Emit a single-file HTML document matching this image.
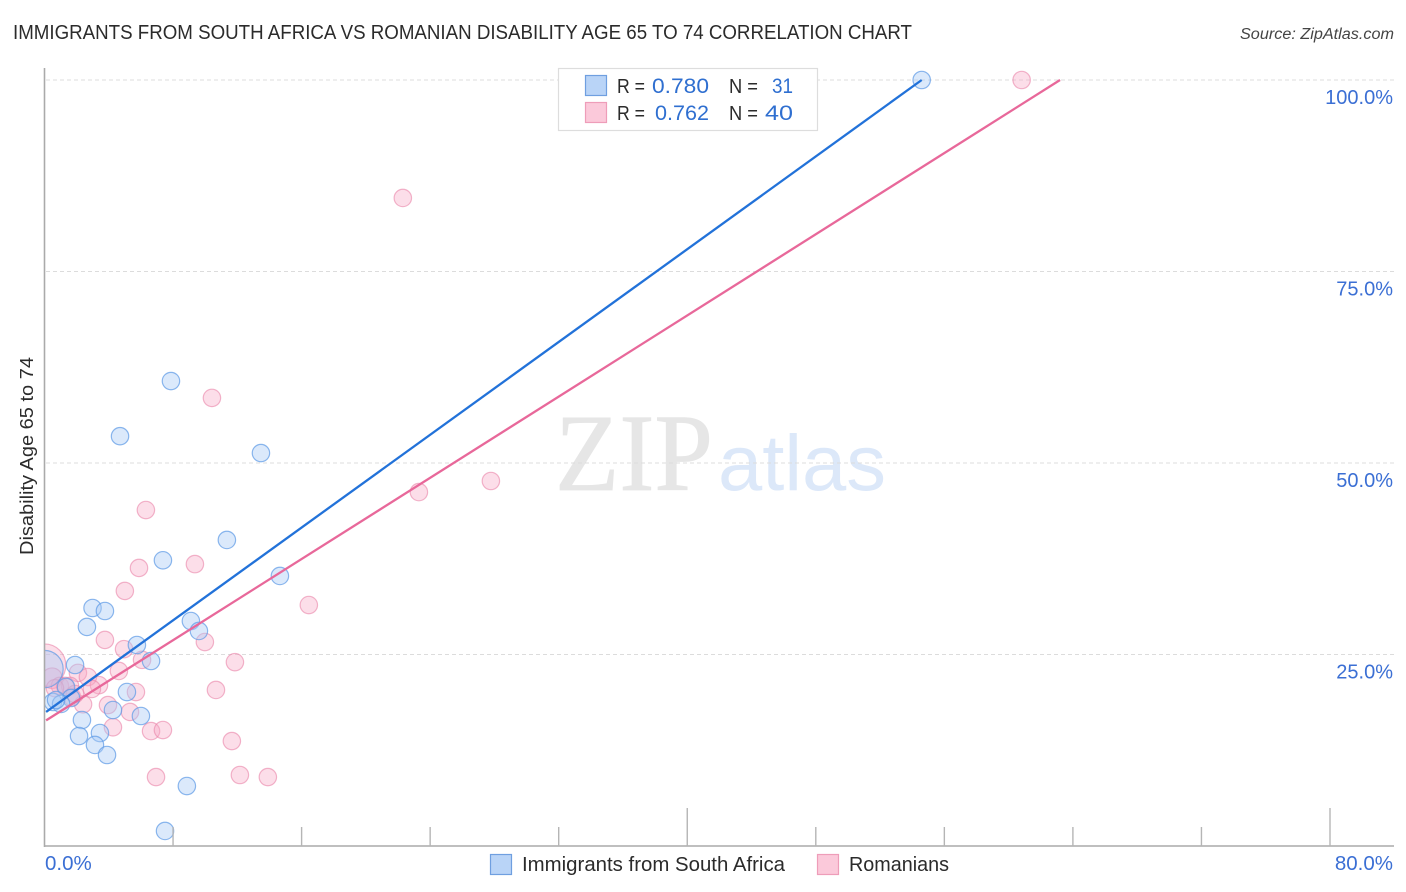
<!DOCTYPE html>
<html lang="en">
<head>
<meta charset="utf-8">
<title>Immigrants from South Africa vs Romanian Disability Age 65 to 74 Correlation Chart</title>
<style>
html,body{margin:0;padding:0;background:#fff;width:1406px;height:892px;overflow:hidden}
svg{display:block;font-family:"Liberation Sans",sans-serif}
</style>
</head>
<body>
<svg id="chart" xmlns="http://www.w3.org/2000/svg" width="1406" height="892" viewBox="0 0 1406 892">
  <rect x="0" y="0" width="1406" height="892" fill="#fff"/>
  <text x="13" y="39" font-size="20" fill="#2b2b2b" textLength="899" lengthAdjust="spacingAndGlyphs">IMMIGRANTS FROM SOUTH AFRICA VS ROMANIAN DISABILITY AGE 65 TO 74 CORRELATION CHART</text>
  <text x="1394" y="39" font-size="15.5" font-style="italic" fill="#444" text-anchor="end" textLength="154" lengthAdjust="spacingAndGlyphs">Source: ZipAtlas.com</text>
  <g>
    <text x="555" y="490" font-family="'Liberation Serif',serif" font-size="110" fill="#e6e6e6" stroke="#e6e6e6" stroke-width="0.8" textLength="158" lengthAdjust="spacingAndGlyphs">ZIP</text>
    <text x="718" y="490" font-size="79" fill="#dce8f9" textLength="168" lengthAdjust="spacingAndGlyphs">atlas</text>
  </g>
  <g id="grid-layer"></g>
  <g id="point-layer"></g>
  <rect x="0" y="620" width="44" height="100" fill="#fff"/>
  <g id="axis-layer"></g>
  <g id="line-layer"></g>
  <text transform="translate(33,456) rotate(-90)" font-size="18.5" fill="#2b2b2b" text-anchor="middle" textLength="198" lengthAdjust="spacingAndGlyphs">Disability Age 65 to 74</text>

  <g>
    <rect x="558.5" y="68.5" width="259" height="62" fill="#fff" stroke="#ddd" stroke-width="1.2"/>
    <rect x="585.5" y="75.5" width="21" height="20" fill="#b9d4f7" stroke="#6f9fe0" stroke-width="1.2"/>
    <rect x="585.5" y="102.5" width="21" height="20" fill="#fbc9da" stroke="#ee9db9" stroke-width="1.2"/>
    <text x="617" y="93" font-size="20" fill="#2b2b2b" textLength="28" lengthAdjust="spacingAndGlyphs">R =</text>
    <text x="652" y="93" font-size="21.5" fill="#2f6fd0" textLength="57" lengthAdjust="spacingAndGlyphs">0.780</text>
    <text x="729" y="93" font-size="20" fill="#2b2b2b" textLength="29" lengthAdjust="spacingAndGlyphs">N =</text>
    <text x="772" y="93" font-size="21.5" fill="#2f6fd0" textLength="21" lengthAdjust="spacingAndGlyphs">31</text>
    <text x="617" y="120" font-size="20" fill="#2b2b2b" textLength="28" lengthAdjust="spacingAndGlyphs">R =</text>
    <text x="655" y="120" font-size="21.5" fill="#2f6fd0" textLength="54" lengthAdjust="spacingAndGlyphs">0.762</text>
    <text x="729" y="120" font-size="20" fill="#2b2b2b" textLength="29" lengthAdjust="spacingAndGlyphs">N =</text>
    <text x="765" y="120" font-size="21.5" fill="#2f6fd0" textLength="28" lengthAdjust="spacingAndGlyphs">40</text>
  </g>

  <g>
    <rect x="490.5" y="854.5" width="21" height="20" fill="#b9d4f7" stroke="#6f9fe0" stroke-width="1.2"/>
    <text x="522" y="871" font-size="20" fill="#2b2b2b" textLength="263" lengthAdjust="spacingAndGlyphs">Immigrants from South Africa</text>
    <rect x="817.5" y="854.5" width="21" height="20" fill="#fbc9da" stroke="#ee9db9" stroke-width="1.2"/>
    <text x="849" y="871" font-size="20" fill="#2b2b2b" textLength="100" lengthAdjust="spacingAndGlyphs">Romanians</text>
  </g>
</svg>

<script>
// ---- Data (in percent) ----
const xTickValues = [0, 8, 16, 24, 32, 40, 48, 56, 64, 72, 80];
const xMajorTicks = [40, 80];
const xEdgeLabels = ["0.0%", "80.0%"];
const xEdgeValues = [0, 80];
const yTickValues = [25, 50, 75, 100];
const yTickLabels = ["25.0%", "50.0%", "75.0%", "100.0%"];

const southAfricaX = [54.59, 7.87, 4.70, 13.47, 11.35, 7.37, 14.65, 2.99, 3.76, 2.64, 9.11, 9.61, 5.75, 6.63, 1.90, 5.13, 1.34, 1.65, 0.53, 1.03, 0.72, 4.26, 6.00, 2.33, 2.15, 3.45, 3.14, 3.89, 8.86, 7.50, 0];
const southAfricaY = [100, 60.7, 53.5, 51.3, 39.95, 37.3, 35.25, 31.07, 30.68, 28.6, 29.37, 28.07, 26.24, 24.15, 23.63, 20.1, 20.76, 19.32, 18.8, 18.54, 19.06, 17.75, 16.97, 16.45, 14.36, 14.75, 13.19, 11.88, 7.83, 1.96, 23.1];
const southAfricaWeight = [1, 1, 1, 1, 1, 1, 1, 1, 1, 1, 1, 1, 1, 1, 1, 1, 1, 1, 1, 1, 1, 1, 1, 1, 1, 1, 1, 1, 1, 1, 4.6];

const romaniansX = [60.81, 22.3, 10.42, 6.31, 27.78, 23.3, 9.36, 5.88, 5.0, 16.45, 3.76, 9.98, 4.95, 11.85, 6.07, 4.63, 10.67, 5.69, 3.95, 5.32, 2.4, 4.26, 6.63, 7.37, 11.66, 6.94, 12.16, 13.9, 0, 0.47, 2.08, 2.7, 3.39, 2.95, 0.96, 1.59, 1.28, 0.65, 1.71, 1.9];
const romaniansY = [100, 84.6, 58.5, 43.86, 47.65, 46.2, 36.8, 36.3, 33.3, 31.46, 26.9, 26.63, 25.7, 24.0, 24.3, 22.85, 20.37, 20.1, 18.4, 17.5, 18.5, 15.5, 15.0, 15.14, 13.7, 9.0, 9.27, 9.0, 23.6, 21.9, 22.6, 22.06, 21.0, 20.5, 20.9, 20.9, 20.9, 20.6, 19.45, 19.84];
const romaniansWeight = [1, 1, 1, 1, 1, 1, 1, 1, 1, 1, 1, 1, 1, 1, 1, 1, 1, 1, 1, 1, 1, 1, 1, 1, 1, 1, 1, 1, 6, 1.4, 1, 1, 1, 1, 1, 1, 1, 1, 1, 1];

const southAfricaTrendX = [0.1, 54.59];
const southAfricaTrendY = [17.5, 100];
const romaniansTrendX = [0.1, 63.2];
const romaniansTrendY = [16.4, 100];

// ---- Axis functions ----
const NS = "http://www.w3.org/2000/svg";
function xScale(v) { return 44.5 + v * (1330 - 44.5) / 80; }
function yScale(v) { return 846 - v * (846 - 80) / 100; }
function rScale(w) { return 8.7 * Math.sqrt(w); }
function make(tag, parent, props) {
  const el = document.createElementNS(NS, tag);
  for (const k in props) el.setAttribute(k, props[k]);
  parent.appendChild(el);
  return el;
}

const gridLayer = document.getElementById("grid-layer");
const axisLayer = document.getElementById("axis-layer");
const pointLayer = document.getElementById("point-layer");
const lineLayer = document.getElementById("line-layer");

// Gridlines and y tick labels
yTickValues.forEach(function (v, i) {
  const g = make("line", gridLayer, {x1: 46, x2: 1394, y1: yScale(v), y2: yScale(v), stroke: "#dcdcdc", "stroke-width": 1, "stroke-dasharray": "4 3"});
  
  
  const label = yTickLabels[i];
  const t = make("text", axisLayer, {x: 1393, y: yScale(v) + 24, "font-size": 20, fill: "#3b6fd4", "text-anchor": "end"});
  t.textContent = label;
  
  
});

// Axis lines
const yAxisLine = make("line", axisLayer, {x1: 44.5, x2: 44.5, y1: 68, y2: 847, stroke: "#aaa", "stroke-width": 1.6});


const xAxisLine = make("line", axisLayer, {x1: 44, x2: 1394, y1: 846, y2: 846, stroke: "#aaa", "stroke-width": 1.6});



// X ticks
xTickValues.forEach(function (v) {
  if (v === 0) return;
  const major = xMajorTicks.indexOf(v) >= 0;
  const tk = make("line", axisLayer, {x1: xScale(v), x2: xScale(v), y1: major ? 808 : 827, y2: 846, stroke: "#b5b5b5", "stroke-width": 1.4});
  
  
});

// X edge labels
xEdgeValues.forEach(function (v, i) {
  const t = make("text", axisLayer, {x: i === 0 ? xScale(v) + 0.5 : 1393, y: 870, "font-size": 20.5, fill: "#3b6fd4", "text-anchor": i === 0 ? "start" : "end"});
  t.textContent = xEdgeLabels[i];
  
  
});

// Points: Romanians first, South Africa on top
romaniansX.forEach(function (v, i) {
  const c = make("circle", pointLayer, {cx: xScale(v), cy: yScale(romaniansY[i]), r: rScale(romaniansWeight[i]), fill: "#f7a8c4", "fill-opacity": 0.38, stroke: "#e984a8", "stroke-opacity": 0.6, "stroke-width": 1.2});
  
  
});
southAfricaX.forEach(function (v, i) {
  const c = make("circle", pointLayer, {cx: xScale(v), cy: yScale(southAfricaY[i]), r: rScale(southAfricaWeight[i]), fill: "#a9cbf5", "fill-opacity": 0.42, stroke: "#5f9be6", "stroke-opacity": 0.72, "stroke-width": 1.2});
  
  
});

// Trend lines
const romaniansLine = make("line", lineLayer, {x1: xScale(romaniansTrendX[0]), y1: yScale(romaniansTrendY[0]), x2: xScale(romaniansTrendX[1]), y2: yScale(romaniansTrendY[1]), stroke: "#e8689a", "stroke-width": 2.3});


const southAfricaLine = make("line", lineLayer, {x1: xScale(southAfricaTrendX[0]), y1: yScale(southAfricaTrendY[0]), x2: xScale(southAfricaTrendX[1]), y2: yScale(southAfricaTrendY[1]), stroke: "#2272d9", "stroke-width": 2.3});


</script>
</body>
</html>
